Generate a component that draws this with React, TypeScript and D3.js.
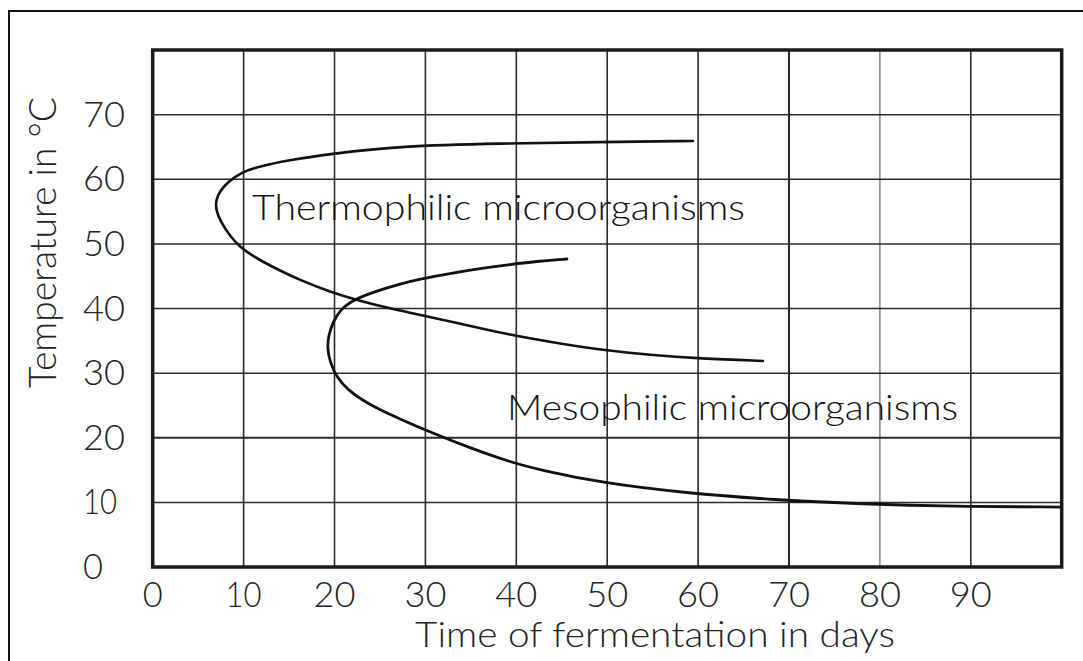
import React from "react";
import * as d3 from "d3";

const xTicks = [0, 10, 20, 30, 40, 50, 60, 70, 80, 90];
const yTicks = [0, 10, 20, 30, 40, 50, 60, 70];
const xGrid = [10, 20, 30, 40, 50, 60, 70, 80, 90];
const yGrid = [10, 20, 30, 40, 50, 60, 70];

const xTitle = "Time of fermentation in days";
const yTitle = "Temperature in °C";
const thermoLabel = "Thermophilic microorganisms";
const mesoLabel = "Mesophilic microorganisms";

// Thermophilic curve, traced from its upper right end around the bend
const thermoDays = [59.44, 49.21, 38.21, 27.21, 19.51, 15.1, 11.8, 9.6, 8.28, 7.4, 6.95, 6.95, 7.5, 8.5, 9.6, 11.03, 12.57, 14.33, 16.2, 19.51, 22.81, 26.11, 29.41, 33.81, 39.31, 44.81, 49.43, 54.71, 60.21, 67.14];
const thermoTemps = [65.92, 65.76, 65.53, 65.15, 63.91, 62.98, 62.05, 60.97, 59.57, 58.18, 56.79, 55.24, 53.38, 51.22, 49.52, 48.12, 46.89, 45.65, 44.41, 42.55, 41.16, 40.0, 38.99, 37.68, 35.9, 34.58, 33.58, 32.8, 32.26, 31.88];

// Mesophilic curve, traced from its upper right end around the bend
const mesoDays = [45.57, 42.6, 39.3, 36.01, 32.71, 29.41, 27.21, 24.46, 22.03, 20.6, 19.84, 19.35, 19.2, 19.5, 20.28, 21.49, 23.03, 25.01, 27.21, 30.51, 34.91, 39.31, 42.61, 49.43, 58.56, 68.57, 78.03, 88.04, 99.81];
const mesoTemps = [47.66, 47.35, 46.81, 46.19, 45.42, 44.56, 43.79, 42.63, 41.32, 39.77, 37.91, 35.9, 33.89, 31.72, 29.25, 27.39, 25.84, 24.29, 22.9, 20.89, 18.41, 16.25, 15.01, 13.0, 11.45, 10.37, 9.75, 9.36, 9.28];

const W = 1083;
const H = 661;
const FONT = "Lato, 'DejaVu Sans', sans-serif";

export default function App() {
  const x = d3.scaleLinear().domain([0, 100]).range([152.7, 1061.7]);
  const y = d3.scaleLinear().domain([0, 80]).range([567, 50]);

  const line = d3
    .line<[number, number]>()
    .x((d) => x(d[0]))
    .y((d) => y(d[1]))
    .curve(d3.curveBasis);

  const thermo: [number, number][] = thermoDays.map((d, i) => [d, thermoTemps[i]]);
  const meso: [number, number][] = mesoDays.map((d, i) => [d, mesoTemps[i]]);

  const [x0, x1] = x.range();
  const [y0, y1] = y.range();

  return (
    <div style={{ position: "absolute", left: 0, top: 0 }}>
      <svg width={W} height={H} style={{ display: "block", background: "#fff" }}>
        {/* outer frame */}
        <path d={`M9,${H + 5} L9,11 L${W + 5},11`} fill="none" stroke="#111" strokeWidth={2} />

        {/* grid */}
        {xGrid.map((v) => (
          <line key={"gx" + v} x1={x(v)} x2={x(v)} y1={y1} y2={y0} stroke={v === 80 ? "#666" : "#2a2a2a"} strokeWidth={v === 70 ? 2 : v === 80 ? 1.2 : 1.6} />
        ))}
        {yGrid.map((v) => (
          <line key={"gy" + v} x1={x0} x2={x1} y1={y(v)} y2={y(v)} stroke="#2a2a2a" strokeWidth={v === 20 ? 2 : 1.5} />
        ))}

        {/* plot border */}
        <rect x={x0} y={y1} width={x1 - x0} height={y0 - y1} fill="none" stroke="#1a1a1a" strokeWidth={3.5} />

        {/* curves */}
        <path d={line(thermo) || ""} fill="none" stroke="#111" strokeWidth={2.6} strokeLinecap="round" strokeLinejoin="round" />
        <path d={line(meso) || ""} fill="none" stroke="#111" strokeWidth={2.8} strokeLinecap="round" strokeLinejoin="round" />

        {/* curve labels */}
        <text x={252} y={220} fontFamily={FONT} fontWeight={300} fontSize={35} fill="#111" textLength={493} lengthAdjust="spacingAndGlyphs">
          {thermoLabel}
        </text>
        <text x={507} y={420} fontFamily={FONT} fontWeight={300} fontSize={35} fill="#111" textLength={451} lengthAdjust="spacingAndGlyphs">
          {mesoLabel}
        </text>

        {/* y tick labels */}
        {yTicks.map((v) => (
          <text key={"ty" + v} x={83} y={y(v) + 12} fontFamily={FONT} fontWeight={300} fontSize={35} fill="#222" textLength={v === 0 ? 20 : v === 10 ? 34 : 42} lengthAdjust="spacingAndGlyphs">
            {v}
          </text>
        ))}

        {/* x tick labels */}
        {xTicks.map((v) => (
          <text key={"tx" + v} x={x(v)} y={607} textAnchor="middle" fontFamily={FONT} fontWeight={300} fontSize={35} fill="#222" textLength={v === 0 ? 20 : v === 10 ? 36 : 42} lengthAdjust="spacingAndGlyphs">
            {v}
          </text>
        ))}

        {/* axis titles */}
        <text x={415} y={647} fontFamily={FONT} fontWeight={300} fontSize={35} fill="#222" textLength={480} lengthAdjust="spacingAndGlyphs">
          {xTitle}
        </text>
        <text transform="translate(56,388) rotate(-90)" x={0} y={0} fontFamily={FONT} fontWeight={300} fontSize={37} fill="#222" textLength={291} lengthAdjust="spacingAndGlyphs">
          {yTitle}
        </text>
      </svg>
    </div>
  );
}
